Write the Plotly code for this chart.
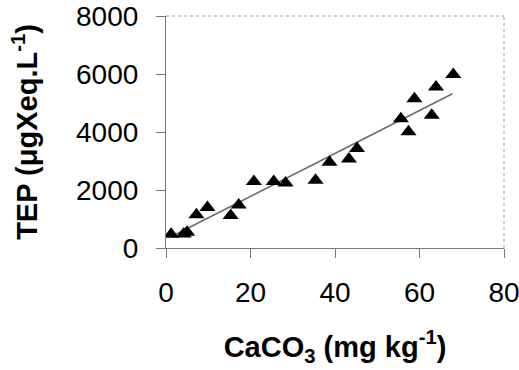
import plotly.graph_objects as go

caco3 = [1.2, 4.2, 5.0, 7.2, 9.8, 15.3, 17.2, 20.8, 25.5, 28.3, 35.4, 38.7, 43.3, 45.2, 55.6, 57.4, 58.8, 62.9, 63.9, 68.0]
tep = [470, 480, 540, 1150, 1400, 1120, 1480, 2292, 2292, 2240, 2338, 2960, 3070, 3430, 4460, 4010, 5150, 4575, 5550, 5980]

trend_slope = 74.0
trend_intercept = 300.0
trend_x = [2.0, 67.8]

x_ticks = [0, 20, 40, 60, 80]
y_ticks = [0, 2000, 4000, 6000, 8000]

trend_y = [trend_intercept + trend_slope * v for v in trend_x]

fig = go.Figure()
fig.add_trace(go.Scatter(x=trend_x, y=trend_y, mode="lines",
                         line=dict(color="#6a6a6a", width=1.6), showlegend=False))
fig.add_trace(go.Scatter(x=caco3, y=tep, mode="markers",
                         marker=dict(symbol="triangle-up", size=14, color="black"),
                         showlegend=False))

font_family = "Liberation Sans, Arial, sans-serif"
fig.update_layout(
    width=519, height=370,
    margin=dict(l=166, r=15, t=16, b=122, autoexpand=False),
    paper_bgcolor="white", plot_bgcolor="white",
    font=dict(family=font_family, color="black"),
    xaxis=dict(range=[0, 80], tickvals=x_ticks, ticks="outside", ticklen=9,
               tickcolor="#777", tickwidth=1.2, automargin=False,
               ticklabelstandoff=10, ticklabeloverflow="allow",
               showline=True, linecolor="#777", linewidth=1.2,
               showgrid=False, zeroline=False,
               tickfont=dict(size=28, family=font_family),
               title=dict(text="<b>CaCO<sub>3</sub> (mg kg<sup>-1</sup>)</b>",
                          font=dict(size=29, family=font_family), standoff=29)),
    yaxis=dict(range=[0, 8000], tickvals=y_ticks, ticks="outside", ticklen=9,
               tickcolor="#777", tickwidth=1.2, automargin=False,
               ticklabelstandoff=12, ticklabeloverflow="allow",
               showline=True, linecolor="#777", linewidth=1.2,
               showgrid=False, zeroline=False,
               tickfont=dict(size=28, family=font_family),
               title=dict(text="<b>TEP (μgXeq.L<sup>-1</sup>)</b>",
                          font=dict(size=29, family=font_family), standoff=29)),
    shapes=[
        dict(type="line", xref="paper", yref="paper", x0=0, x1=1, y0=1, y1=1,
             line=dict(color="#999", width=1, dash="dot")),
        dict(type="line", xref="paper", yref="paper", x0=1, x1=1, y0=0, y1=1,
             line=dict(color="#999", width=1, dash="dot")),
    ],
)

fig.write_html("out.html")
